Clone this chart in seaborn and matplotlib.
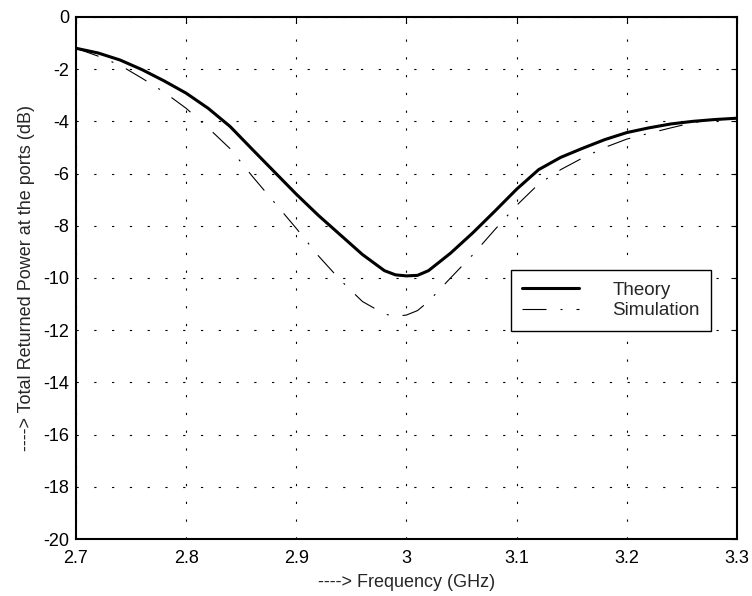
import matplotlib
matplotlib.use("Agg")
import matplotlib.pyplot as plt
import seaborn as sns
import pandas as pd

# Frequency points (GHz) and returned power (dB)
freq = [2.70, 2.72, 2.74, 2.76, 2.78, 2.80, 2.82, 2.84, 2.86, 2.88,
        2.90, 2.92, 2.94, 2.96, 2.98, 2.99, 3.00, 3.01, 3.02, 3.04,
        3.06, 3.08, 3.10, 3.12, 3.14, 3.16, 3.18, 3.20, 3.22, 3.24,
        3.26, 3.28, 3.30]
theory = [-1.2, -1.38, -1.65, -2.02, -2.45, -2.92, -3.5, -4.2, -5.07, -5.93,
          -6.79, -7.6, -8.35, -9.1, -9.72, -9.88, -9.92, -9.9, -9.72, -9.05,
          -8.28, -7.45, -6.6, -5.85, -5.38, -5.03, -4.7, -4.43, -4.25, -4.1,
          -4.0, -3.93, -3.88]
simulation = [-1.2, -1.5, -1.85, -2.35, -2.88, -3.5, -4.25, -5.05, -6.1, -7.1,
              -8.1, -9.15, -10.08, -10.9, -11.38, -11.47, -11.42, -11.25, -10.9, -10.0,
              -9.12, -8.16, -7.22, -6.4, -5.85, -5.4, -5.0, -4.68, -4.46, -4.25,
              -4.05, -3.95, -3.88]

x_ticks = [2.7, 2.8, 2.9, 3.0, 3.1, 3.2, 3.3]
x_tick_labels = ["2.7", "2.8", "2.9", "3", "3.1", "3.2", "3.3"]
y_ticks = list(range(-20, 1, 2))

df = pd.DataFrame({"freq": freq, "Theory": theory, "Simulation": simulation})

sns.set_style("white")
plt.rcParams["font.family"] = ["Liberation Sans", "DejaVu Sans"]
plt.rcParams["font.size"] = 13
plt.rcParams["axes.unicode_minus"] = False

fig = plt.figure(figsize=(7.52, 5.96), dpi=100)
ax = fig.add_axes([0.101, 0.0956, 0.879, 0.876])

sns.lineplot(data=df, x="freq", y="Theory", ax=ax, color="black",
             linewidth=2.2, label="Theory")
sns.lineplot(data=df, x="freq", y="Simulation", ax=ax, color="black",
             linewidth=0.8, linestyle=(0, (21.6, 12.6, 1.8, 12.6)), label="Simulation")

ax.set_xlim(2.7, 3.3)
ax.set_ylim(-20, 0)
ax.set_xticks(x_ticks)
ax.set_xticklabels(x_tick_labels)
ax.set_yticks(y_ticks)
ax.set_xlabel("----> Frequency (GHz)", fontsize=13, labelpad=5)
ax.set_ylabel("----> Total Returned Power at the ports (dB)", fontsize=13, labelpad=6)

# matlab-like dotted grid and inward ticks on all sides
ax.grid(True, color="black", linewidth=0.8, linestyle=(0, (2, 14)))
ax.tick_params(direction="in", length=4, width=0.8, top=True, right=True,
               labelsize=13, colors="black")
ax.tick_params(axis="x", pad=8)
ax.tick_params(axis="y", pad=5)
for sp in ax.spines.values():
    sp.set_color("black")
    sp.set_linewidth(1.5)

leg = ax.legend(loc="upper left", bbox_to_anchor=(0.658, 0.515),
                frameon=True, fancybox=False, edgecolor="black",
                handlelength=3.05, handletextpad=1.75, labelspacing=0.2,
                borderpad=0.6, fontsize=13.5, borderaxespad=0)
leg.get_frame().set_linewidth(1.0)
leg.get_frame().set_alpha(1)

fig.savefig("out.png", dpi=100)
